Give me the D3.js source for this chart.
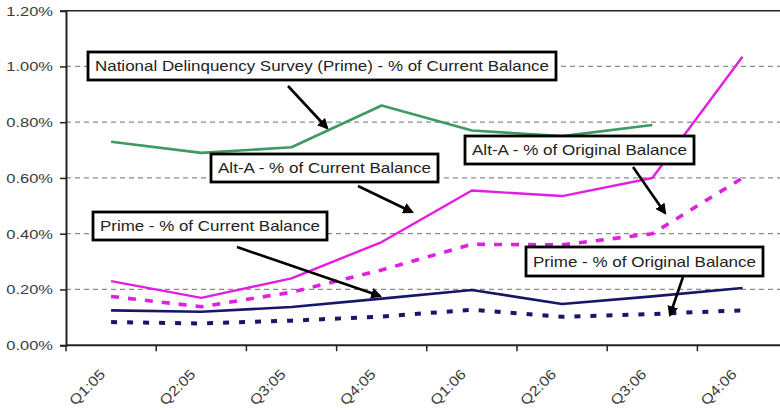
<!DOCTYPE html>
<html>
<head>
<meta charset="utf-8">
<script src="https://cdn.jsdelivr.net/npm/d3@7"></script>
<style>
  body { margin: 0; background: #fff; }
  text { font-family: Arial, "Liberation Sans", sans-serif; fill: #333; }
</style>
</head>
<body>
<script>
var categories = ["Q1:05", "Q2:05", "Q3:05", "Q4:05", "Q1:06", "Q2:06", "Q3:06", "Q4:06"];
var yTicks = [0, 0.2, 0.4, 0.6, 0.8, 1.0, 1.2];

// % of balance
var ndsPrime      = [0.73, 0.69, 0.71, 0.86, 0.77, 0.75, 0.79, null];
var altACurrent   = [0.23, 0.17, 0.24, 0.37, 0.555, 0.535, 0.60, 1.035];
var altAOriginal  = [0.175, 0.138, 0.19, 0.27, 0.362, 0.36, 0.40, 0.60];
var primeCurrent  = [0.125, 0.12, 0.137, 0.167, 0.198, 0.148, 0.175, 0.205];
var primeOriginal = [0.083, 0.078, 0.088, 0.103, 0.127, 0.102, 0.112, 0.125];

var labels = [
  "National Delinquency Survey (Prime) - % of Current Balance",
  "Alt-A - % of Current Balance",
  "Prime - % of Current Balance",
  "Alt-A - % of Original Balance",
  "Prime - % of Original Balance"
];

var W = 780, H = 411;
var plotLeft = 66, plotTop = 10.7, plotBottom = 345.2, plotRight = 787.6;

var svg = d3.select("body").append("svg")
	.attr("width", W).attr("height", H);

var defs = svg.append("defs");
defs.append("marker")
	.attr("id", "head")
	.attr("viewBox", "0 0 10 10")
	.attr("refX", 8).attr("refY", 5)
	.attr("markerWidth", 4.2).attr("markerHeight", 4.2)
	.attr("markerUnits", "strokeWidth")
	.attr("orient", "auto")
  .append("path")
	.attr("d", "M0,0 L10,5 L0,10 z")
	.style("fill", "#000");

var x = d3.scaleBand().domain(categories).range([plotLeft, plotRight]);
var y = d3.scaleLinear().domain([0, 1.2]).range([plotBottom, plotTop]);

// gridlines
svg.append("g").selectAll("line")
	.data(yTicks.filter(function (d) { return d > 0 && d < 1.2; }))
	.enter().append("line")
		.attr("x1", plotLeft).attr("x2", W)
		.attr("y1", function (d) { return y(d); })
		.attr("y2", function (d) { return y(d); })
		.style("stroke", "#8a8a8a")
		.style("stroke-width", 1.3)
		.style("stroke-dasharray", "5,4");

// top border
svg.append("line")
	.attr("x1", plotLeft).attr("x2", W)
	.attr("y1", y(1.2)).attr("y2", y(1.2))
	.style("stroke", "#222").style("stroke-width", 1.5);

// y axis
var yAxis = svg.append("g")
	.attr("transform", "translate(" + plotLeft + ",0)")
	.call(d3.axisLeft(y).tickValues(yTicks).tickSize(6).tickPadding(7)
		.tickFormat(function (d) { return d3.format(".2f")(d) + "%"; }));
yAxis.select(".domain").style("stroke", "#222").style("stroke-width", 2);
yAxis.selectAll(".tick line").style("stroke", "#222").style("stroke-width", 1.5);
yAxis.selectAll("text")
	.style("font-size", "13.5px").style("fill", "#3a3a3a")
	.attr("transform", function () {
		var xx = +d3.select(this).attr("x");
		return "translate(" + xx + ",0) scale(1.22,1) translate(" + (-xx) + ",0)";
	});

// x axis
var xAxis = svg.append("g")
	.attr("transform", "translate(0," + plotBottom + ")");
xAxis.append("line")
	.attr("x1", plotLeft).attr("x2", W)
	.style("stroke", "#222").style("stroke-width", 2);
xAxis.selectAll(".xt")
	.data(categories)
	.enter().append("line")
		.attr("class", "xt")
		.attr("x1", function (d) { return x(d); })
		.attr("x2", function (d) { return x(d); })
		.attr("y1", 0).attr("y2", 6)
		.style("stroke", "#222").style("stroke-width", 1.5);
xAxis.selectAll(".xl")
	.data(categories)
	.enter().append("text")
		.attr("class", "xl")
		.attr("text-anchor", "end")
		.attr("transform", function (d) {
			return "translate(" + (x(d) + x.bandwidth() / 2 - 5) + ",30) rotate(-45) scale(1.15,1)";
		})
		.style("font-size", "14px")
		.style("fill", "#3a3a3a")
		.text(function (d) { return d; });

// series
var line = d3.line()
	.defined(function (d) { return d != null; })
	.x(function (d, i) { return x(categories[i]) + x.bandwidth() / 2; })
	.y(function (d) { return y(d); });

var series = [
	{ values: ndsPrime,      color: "#3d9a62", width: 2.6, dash: null },
	{ values: altAOriginal,  color: "#e21ee0", width: 3.6, dash: "8,9" },
	{ values: altACurrent,   color: "#e21ee0", width: 2.4, dash: null },
	{ values: primeOriginal, color: "#17176a", width: 4, dash: "6,10" },
	{ values: primeCurrent,  color: "#17176a", width: 2.6, dash: null }
];

svg.append("g").selectAll("path")
	.data(series)
	.enter().append("path")
		.attr("d", function (d) { return line(d.values); })
		.style("fill", "none")
		.style("stroke", function (d) { return d.color; })
		.style("stroke-width", function (d) { return d.width; })
		.style("stroke-dasharray", function (d) { return d.dash; })
		.style("stroke-linejoin", "round");

// callout boxes
var boxes = [
	{ text: labels[0], x0: 88,  y0: 52,  x1: 556, y1: 80 },
	{ text: labels[1], x0: 211, y0: 154, x1: 438, y1: 182 },
	{ text: labels[2], x0: 93,  y0: 212, x1: 327, y1: 240 },
	{ text: labels[3], x0: 465, y0: 136, x1: 694, y1: 164 },
	{ text: labels[4], x0: 526, y0: 247, x1: 763, y1: 276 }
];
// arrows: start -> tip
var arrows = [
	{ x1: 288, y1: 86,  x2: 327, y2: 128 },
	{ x1: 358, y1: 186, x2: 412, y2: 212 },
	{ x1: 237, y1: 247, x2: 380, y2: 296 },
	{ x1: 633, y1: 167, x2: 665, y2: 213 },
	{ x1: 683, y1: 277, x2: 670, y2: 315 }
];

svg.append("g").selectAll("line")
	.data(arrows)
	.enter().append("line")
		.attr("x1", function (d) { return d.x1; })
		.attr("y1", function (d) { return d.y1; })
		.attr("x2", function (d) { return d.x2; })
		.attr("y2", function (d) { return d.y2; })
		.style("stroke", "#000")
		.style("stroke-width", 2.6)
		.attr("marker-end", "url(#head)");

var bx = svg.append("g").selectAll("g")
	.data(boxes)
	.enter().append("g");
bx.append("rect")
	.attr("x", function (d) { return d.x0; })
	.attr("y", function (d) { return d.y0; })
	.attr("width", function (d) { return d.x1 - d.x0; })
	.attr("height", function (d) { return d.y1 - d.y0; })
	.style("fill", "#fff")
	.style("stroke", "#000")
	.style("stroke-width", 2.8);
bx.append("text")
	.attr("x", function (d) { return d.x0 + 7; })
	.attr("y", function (d) { return (d.y0 + d.y1) / 2 + 5; })
	.attr("textLength", function (d) { return d.x1 - d.x0 - 14; })
	.attr("lengthAdjust", "spacingAndGlyphs")
	.style("font-size", "15px")
	.style("fill", "#222")
	.text(function (d) { return d.text; });
</script>
</body>
</html>
